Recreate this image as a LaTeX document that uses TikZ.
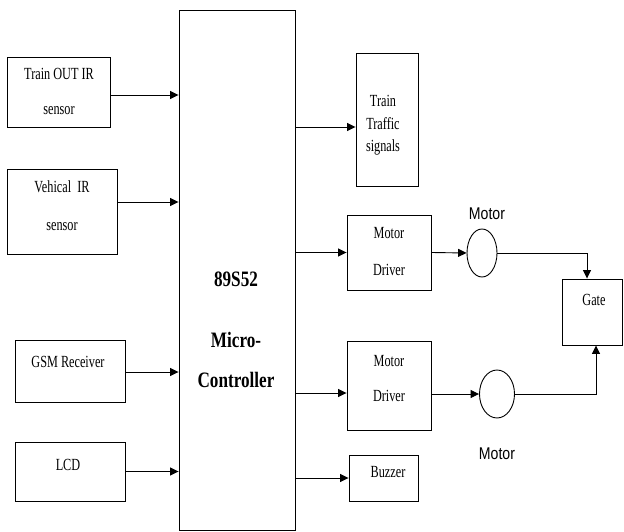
\documentclass[tikz,border=0pt]{standalone}
\usepackage{fontspec}
\usetikzlibrary{arrows.meta,shapes.geometric,calc}
\newfontfamily\serifn[FakeStretch=0.72]{Liberation Serif}
\newfontfamily\serifbold[FakeStretch=0.78]{Liberation Serif}
\newfontfamily\sansn[FakeStretch=0.83]{Liberation Sans}
\begin{document}
\begin{tikzpicture}[x=1pt,y=-1pt,
  box/.style={draw,line width=0.9pt,inner sep=0pt},
  motorc/.style={draw,ellipse,line width=0.9pt,inner sep=0pt},
  conn/.style={line width=0.9pt,-{Triangle[length=8.5pt,width=8pt]}},
  txt/.style={anchor=base,inner sep=0pt,font=\serifn\fontsize{17}{20}\selectfont},
  btxt/.style={anchor=base,inner sep=0pt,font=\serifbold\bfseries\fontsize{22}{24}\selectfont},
  stxt/.style={anchor=base,inner sep=0pt,font=\sansn\fontsize{17}{20}\selectfont}]
\useasboundingbox (0,0) rectangle (624,532);
% boxes
\node[box,minimum width=103pt,minimum height=70pt] (t1) at (58.5,92) {};
\node[box,minimum width=110pt,minimum height=85pt] (veh) at (62,211.5) {};
\node[box,minimum width=110pt,minimum height=62pt] (gsm) at (70,371) {};
\node[box,minimum width=110pt,minimum height=59pt] (lcd) at (70,471.5) {};
\node[box,minimum width=116pt,minimum height=520pt] (main) at (237,270) {};
\node[box,minimum width=62pt,minimum height=133pt] (traffic) at (387,119.5) {};
\node[box,minimum width=84pt,minimum height=75pt] (md1) at (389,252.5) {};
\node[box,minimum width=84pt,minimum height=89pt] (md2) at (389,385.5) {};
\node[box,minimum width=69pt,minimum height=46pt] (buzz) at (383.5,478) {};
\node[box,minimum width=60pt,minimum height=66pt] (gate) at (592,312) {};
\node[motorc,minimum width=30pt,minimum height=48pt] (m1) at (482,253) {};
\node[motorc,minimum width=35pt,minimum height=48pt] (m2) at (497,394) {};
% texts
\node[txt] (t1a) at (59,80) {Train OUT IR};
\node[txt] (t1b) at (59,115) {sensor};
\node[txt] (veha) at (62,193) {Vehical\ \ IR};
\node[txt] (vehb) at (62,230) {sensor};
\node[txt] (gsma) at (68,367) {GSM Receiver};
\node[txt] (lcda) at (68,470) {LCD};
\node[txt] (tra) at (383,107) {Train};
\node[txt] (trb) at (383,130) {Traffic};
\node[txt] (trc) at (383,152) {signals};
\node[txt] (md1a) at (389,238) {Motor};
\node[txt] (md1b) at (389,275) {Driver};
\node[txt] (md2a) at (389,366) {Motor};
\node[txt] (md2b) at (389,401) {Driver};
\node[txt] (buzza) at (388,477) {Buzzer};
\node[txt] (gatea) at (594,305) {Gate};
\node[btxt] (mca) at (236,286) {89S52};
\node[btxt] (mcb) at (236,347) {Micro-};
\node[btxt] (mcc) at (236,387) {Controller};
\node[stxt] (m1l) at (487,219) {Motor};
\node[stxt] (m2l) at (497,459) {Motor};
% connectors: inputs
\draw[conn] ($(t1.east)+(0,3)$) -- ($(t1.east -| main.west)+(0,3)$);
\draw[conn] ($(veh.east)+(0,-9.5)$) -- ($(veh.east -| main.west)+(0,-9.5)$);
\draw[conn] ($(gsm.east)+(0,1)$) -- ($(gsm.east -| main.west)+(0,1)$);
\draw[conn] (lcd.east) -- (lcd.east -| main.west);
% outputs
\draw[conn] ($(main.east |- traffic.west)+(0,7.5)$) -- ($(traffic.west)+(0,7.5)$);
\draw[conn] (main.east |- md1.west) -- (md1.west);
\draw[conn] ($(main.east |- md2.west)+(0,7.5)$) -- ($(md2.west)+(0,7.5)$);
\draw[conn] (main.east |- buzz.west) -- (buzz.west);
% motors
\draw[conn] (md1.east) -- (m1.west);
\draw[conn] ($(md2.east)+(0,8.5)$) -- (m2.west);
\draw[conn] (m1.east) -| ($(gate.north)+(-5,0)$);
\draw[conn] (m2.east) -| ($(gate.south)+(4,0)$);
\end{tikzpicture}
\end{document}
